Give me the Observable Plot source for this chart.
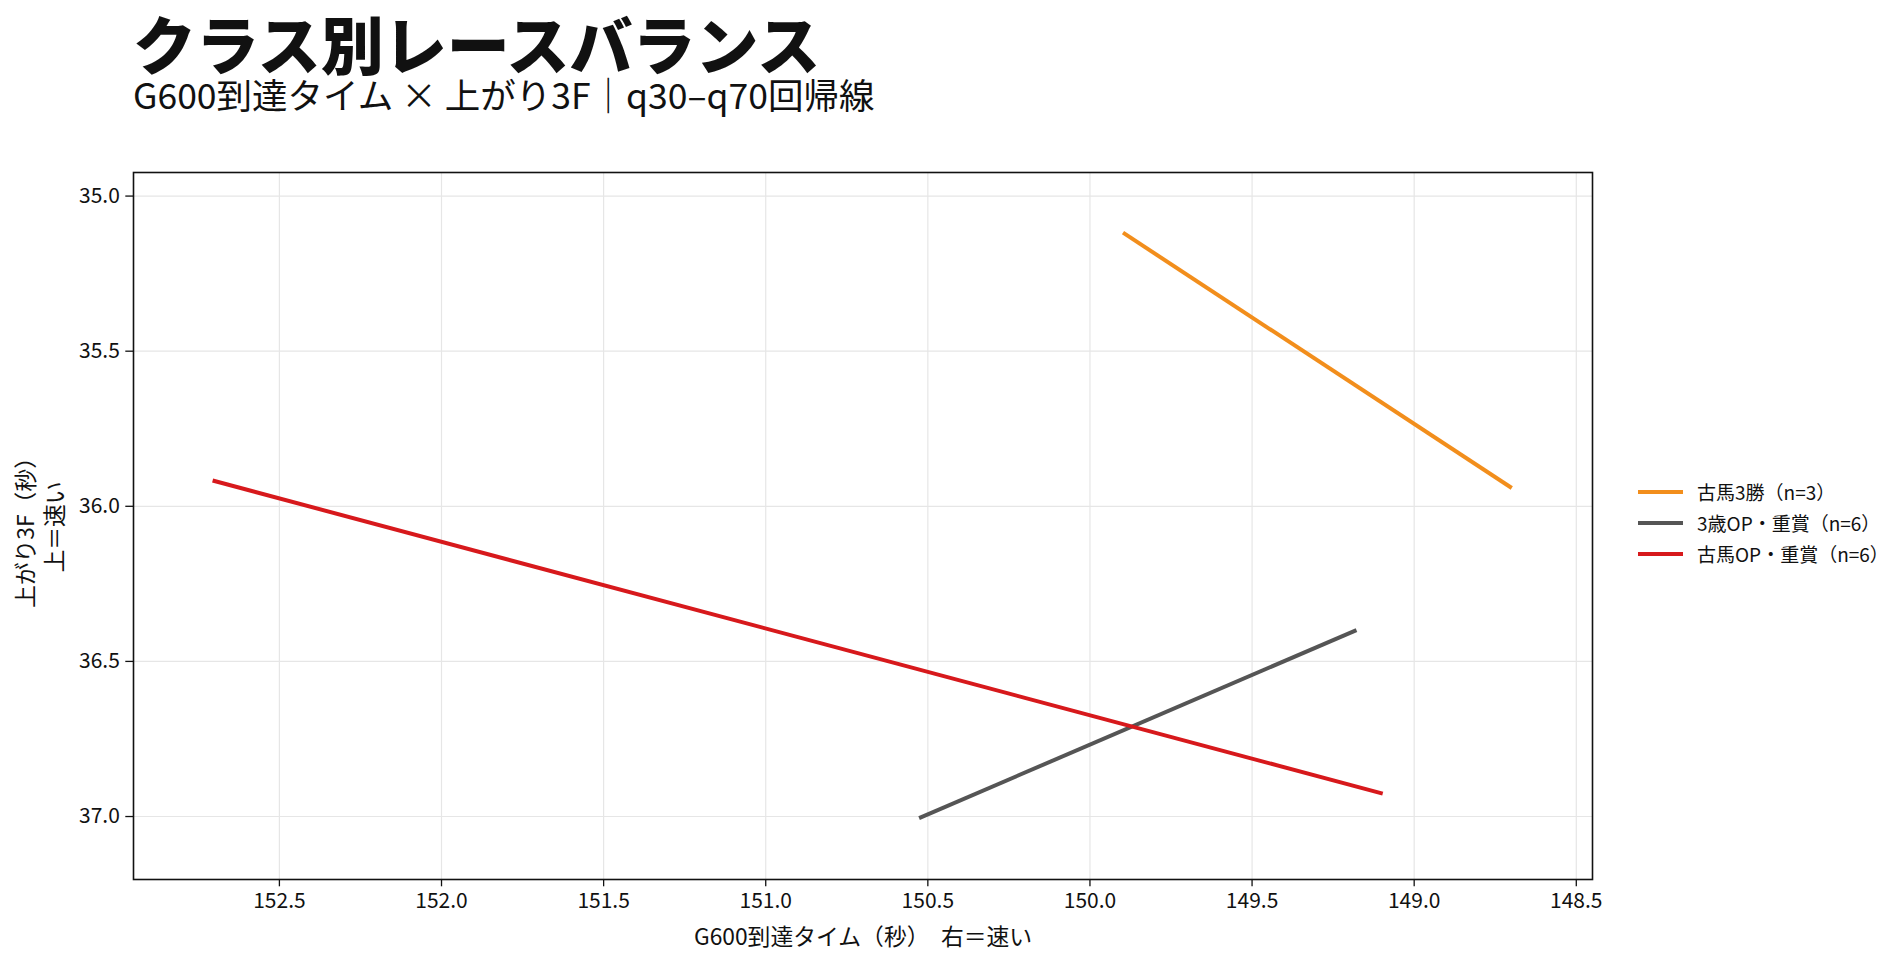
<!DOCTYPE html>
<html>
<head>
<meta charset="utf-8">
<script src="https://cdn.jsdelivr.net/npm/d3@7"></script>
<script src="https://cdn.jsdelivr.net/npm/@observablehq/plot@0.6"></script>
<style>
  html, body { margin: 0; padding: 0; background: #fff; }
  body { width: 1904px; height: 965px; position: relative; overflow: hidden; font-family: "Noto Sans CJK JP", "Noto Sans", sans-serif; color: #111; }
  #title { position: absolute; left: 133px; top: 8.5px; font-size: 63px; font-weight: 900; line-height: 66px; white-space: nowrap; }
  #subtitle { position: absolute; left: 133px; top: 75px; font-size: 35.5px; font-weight: 400; line-height: 38px; white-space: nowrap; }
  #chart { position: absolute; left: 0; top: 120px; }
  #legend { position: absolute; left: 1638px; top: 476px; font-size: 19px; }
  .row { display: flex; align-items: center; height: 31px; }
  .row svg { margin-right: 14px; }
</style>
</head>
<body>
<div id="title"></div>
<div id="subtitle"></div>
<div id="chart"></div>
<div id="legend"></div>
<script>
const titleText = "クラス別レースバランス";
const subtitleText = "G600到達タイム × 上がり3F｜q30–q70回帰線";
const xLabel = "G600到達タイム（秒）　右＝速い";
const yLabel = "上がり3F（秒）\n上＝速い";

const classes = ["古馬3勝", "3歳OP・重賞", "古馬OP・重賞"];
const counts = [3, 6, 6];
const colors = ["#f28e1c", "#555555", "#d7191c"];
const g600Start = [149.898, 150.527, 152.706];
const agariStart = [35.118, 37.005, 35.917];
const g600End = [148.699, 149.178, 149.097];
const agariEnd = [35.941, 36.399, 36.926];

const xTicks = [152.5, 152.0, 151.5, 151.0, 150.5, 150.0, 149.5, 149.0, 148.5];
const yTicks = [35.0, 35.5, 36.0, 36.5, 37.0];
const xDomain = [152.95, 148.45];
const yDomain = [34.924, 37.203];

const labels = classes.map((c, i) => `${c}（n=${counts[i]}）`);
const rows = [];
classes.forEach((c, i) => {
  rows.push({series: labels[i], g600: g600Start[i], agari: agariStart[i]});
  rows.push({series: labels[i], g600: g600End[i], agari: agariEnd[i]});
});

document.getElementById("title").textContent = titleText;
document.getElementById("subtitle").textContent = subtitleText;

const font = "Noto Sans CJK JP";
const chart = Plot.plot({
  width: 1904,
  height: 845,
  marginTop: 52,
  marginBottom: 86,
  marginLeft: 133,
  marginRight: 312,
  style: {fontFamily: font, fontSize: "21px", color: "#111", background: "#fff"},
  x: {domain: xDomain},
  y: {domain: yDomain, reverse: true},
  color: {domain: labels, range: colors},
  marks: [
    Plot.gridX(xTicks, {stroke: "#e6e6e6", strokeOpacity: 1, strokeWidth: 1.2}),
    Plot.gridY(yTicks, {stroke: "#e6e6e6", strokeOpacity: 1, strokeWidth: 1.2}),
    Plot.axisX({ticks: xTicks, tickFormat: d3.format(".1f"), tickSize: 7.3, tickPadding: 6, label: null, fontSize: 21, stroke: "#111", strokeWidth: 1.3}),
    Plot.axisY({ticks: yTicks, tickFormat: d3.format(".1f"), tickSize: 7.7, tickPadding: 6, label: null, fontSize: 21, stroke: "#111", strokeWidth: 1.3}),
    Plot.line(rows, {x: "g600", y: "agari", z: "series", stroke: "series", strokeWidth: 4, strokeLinecap: "butt"}),
    Plot.frame({stroke: "#111", strokeWidth: 1.6}),
    Plot.text([xLabel], {frameAnchor: "bottom", dy: 58, text: d => d, fontSize: 22.8, lineAnchor: "middle", fill: "#111"}),
    Plot.text([yLabel], {frameAnchor: "left", dx: -94, dy: 1, text: d => d, fontSize: 22.8, rotate: -90, textAnchor: "middle", lineAnchor: "middle", lineHeight: 1.25, fill: "#111"})
  ]
});
document.getElementById("chart").appendChild(chart);

const legend = document.getElementById("legend");
labels.forEach((l, i) => {
  const row = document.createElement("div");
  row.className = "row";
  row.innerHTML = `<svg width="45" height="6"><line x1="0" x2="45" y1="3" y2="3" stroke="${colors[i]}" stroke-width="4"/></svg><span>${l}</span>`;
  legend.appendChild(row);
});
</script>
</body>
</html>
